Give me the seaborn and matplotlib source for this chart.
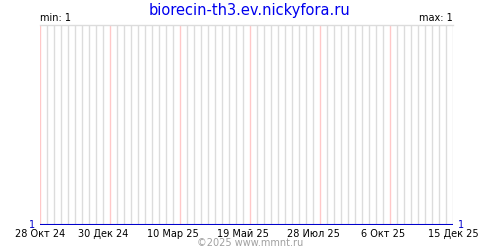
import matplotlib
matplotlib.use("Agg")
import matplotlib.pyplot as plt
import matplotlib.dates as mdates
import seaborn as sns
import pandas as pd
import numpy as np

sns.set_theme(style="white")
plt.rcParams['font.family'] = ['DejaVu Sans']

# Data
dates = ["2024-10-28", "2025-12-15"]
values = [1, 1]
tick_dates = ["2024-10-28", "2024-12-30", "2025-03-10", "2025-05-19",
              "2025-07-28", "2025-10-06", "2025-12-15"]
tick_labels = ["28 Окт 24", "30 Дек 24", "10 Мар 25", "19 Май 25",
               "28 Июл 25", "6 Окт 25", "15 Дек 25"]
title = "biorecin-th3.ev.nickyfora.ru"
min_label = "min: 1"
max_label = "max: 1"
footer = "©2025 www.mmnt.ru"

df = pd.DataFrame({"date": pd.to_datetime(dates), "value": values})

fig = plt.figure(figsize=(5, 2.5), dpi=100)
ax = fig.add_axes([0.08, 0.1, 0.826, 0.8])

x0 = pd.Timestamp(dates[0])
x1 = pd.Timestamp(dates[-1])

# weekly grid lines
week_lines = pd.date_range(x0, x1, freq="7D")
for i, d in enumerate(week_lines):
    col = "#ffc8c8" if i % 10 == 0 else "#dcdcdc"
    ax.axvline(d, color=col, lw=1, zorder=1)

sns.lineplot(data=df, x="date", y="value", ax=ax, color="#0000cc", lw=1.5, zorder=3)

ax.set_xlim(x0, x1)
ax.set_ylim(1, 2)

for s in ["left", "right", "bottom"]:
    ax.spines[s].set_visible(False)
ax.spines["top"].set_color("#dcdcdc")
ax.spines["top"].set_linewidth(1)

ax.set_xticks(pd.to_datetime(tick_dates))
ax.set_xticklabels(tick_labels, fontsize=7, color="black")
ax.tick_params(axis="x", length=0, pad=3)
ax.set_yticks([])
ax.set_xlabel("")
ax.set_ylabel("")

ax.text(-0.012, 0.0, "1", transform=ax.transAxes, ha="right", va="center",
        fontsize=7, color="#0000cc")
ax.text(1.012, 0.0, "1", transform=ax.transAxes, ha="left", va="center",
        fontsize=7, color="#0000cc")
ax.text(0.0, 1.01, min_label, transform=ax.transAxes, ha="left", va="bottom",
        fontsize=7, color="black")
ax.text(1.0, 1.01, max_label, transform=ax.transAxes, ha="right", va="bottom",
        fontsize=7, color="black")

fig.text(0.5, 0.96, title, ha="center", va="center", fontsize=10.5, color="#0000ee")
fig.text(0.5, 0.028, footer, ha="center", va="center", fontsize=7, color="#a0a0a0")

fig.savefig("out.png", dpi=100)
